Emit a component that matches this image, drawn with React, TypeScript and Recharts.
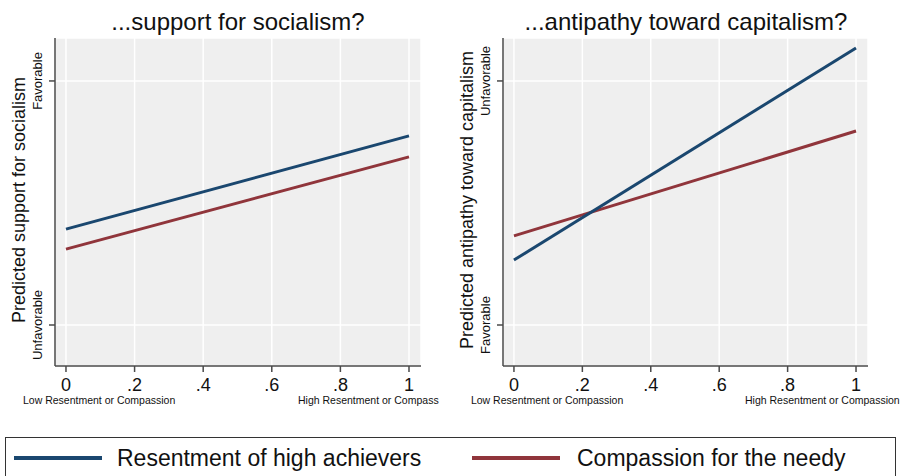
import React from 'react';
import { LineChart, Line, XAxis, YAxis, CartesianGrid, Label } from 'recharts';

const xValues = [0, 1];
const socialismResentment = [0.393, 0.775];
const socialismCompassion = [0.311, 0.689];
const capitalismResentment = [0.266, 1.135];
const capitalismCompassion = [0.365, 0.795];

const xTicks = [0, 0.2, 0.4, 0.6, 0.8, 1];
const xTickLabels = ['0', '.2', '.4', '.6', '.8', '1'];
const lowLabel = 'Low Resentment or Compassion';
const highLabelLeft = 'High Resentment or Compass';
const highLabelRight = 'High Resentment or Compassion';

const seriesNames = ['Resentment of high achievers', 'Compassion for the needy'];
const seriesColors = ['#1a476f', '#90353b'];

const titles = ['...support for socialism?', '...antipathy toward capitalism?'];
const yLabels = ['Predicted support for socialism', 'Predicted antipathy toward capitalism'];
const yTickLabelsLeft = ['Unfavorable', 'Favorable'];
const yTickLabelsRight = ['Favorable', 'Unfavorable'];

const FONT = '"Liberation Sans", Arial, Helvetica, sans-serif';
const AXIS = '#4a4a4a';

const buildData = (a: number[], b: number[]) =>
  xValues.map((x, i) => ({ x, r: a[i], c: b[i] }));

const dataLeft = buildData(socialismResentment, socialismCompassion);
const dataRight = buildData(capitalismResentment, capitalismCompassion);

const makeXTick = (highText: string) => (props: any) => {
  const { x, payload } = props;
  const idx = xTicks.indexOf(payload.value);
  const label = idx >= 0 ? xTickLabels[idx] : String(payload.value);
  return (
    <g>
      <text x={x} y={391} textAnchor="middle" fontSize={18} fontFamily={FONT} fill="#111">
        {label}
      </text>
      {payload.value === 0 && (
        <text x={x - 43} y={404} textAnchor="start" fontSize={10.5} fontFamily={FONT} fill="#111">
          {lowLabel}
        </text>
      )}
      {payload.value === 1 && (
        <text x={x - 111} y={404} textAnchor="start" fontSize={10.5} fontFamily={FONT} fill="#111">
          {highText}
        </text>
      )}
    </g>
  );
};

const makeYTick = (labels: string[]) => (props: any) => {
  const { y, payload } = props;
  const label = payload.value === 1 ? labels[1] : labels[0];
  return (
    <text
      x={42}
      y={y}
      textAnchor="middle"
      fontSize={13}
      fontFamily={FONT}
      fill="#111"
      transform={`rotate(-90, 42, ${y})`}
    >
      {label}
    </text>
  );
};

const makeYLabel = (text: string) => (props: any) => {
  const vb = props.viewBox || { y: 38, height: 328 };
  const cy = vb.y + vb.height / 2 - 2;
  return (
    <text
      x={25}
      y={cy}
      textAnchor="middle"
      fontSize={18}
      fontFamily={FONT}
      fill="#111"
      transform={`rotate(-90, 25, ${cy})`}
    >
      {text}
    </text>
  );
};

function Panel(props: {
  data: any[];
  width: number;
  marginRight: number;
  yLabel: string;
  yTickLabels: string[];
  highText: string;
}) {
  const { data, width, marginRight, yLabel, yTickLabels, highText } = props;
  return (
    <LineChart
      width={width}
      height={420}
      data={data}
      margin={{ top: 38, right: marginRight, left: 15, bottom: 24 }}
    >
      <CartesianGrid fill="#efefef" stroke="#ffffff" strokeWidth={1.5} />
      <XAxis
        dataKey="x"
        type="number"
        domain={[-0.032, 1.035]}
        ticks={xTicks}
        allowDataOverflow
        height={30}
        stroke={AXIS}
        strokeWidth={1.5}
        tickSize={6}
        tickLine={{ stroke: AXIS, strokeWidth: 1.5 }}
        tick={makeXTick(highText)}
        interval={0}
      />
      <YAxis
        type="number"
        domain={[-0.168, 1.176]}
        ticks={[0, 1]}
        allowDataOverflow
        width={40}
        stroke={AXIS}
        strokeWidth={1.5}
        tickSize={6}
        tickLine={{ stroke: AXIS, strokeWidth: 1.5 }}
        tick={makeYTick(yTickLabels)}
        interval={0}
      >
        <Label content={makeYLabel(yLabel)} />
      </YAxis>
      <Line
        dataKey="c"
        stroke={seriesColors[1]}
        strokeWidth={3}
        dot={false}
        isAnimationActive={false}
        type="linear"
      />
      <Line
        dataKey="r"
        stroke={seriesColors[0]}
        strokeWidth={3}
        dot={false}
        isAnimationActive={false}
        type="linear"
      />
    </LineChart>
  );
}

const titleStyle: React.CSSProperties = {
  position: 'absolute',
  width: 440,
  top: 10,
  fontSize: 24,
  lineHeight: '24px',
  textAlign: 'center',
  color: '#111',
  whiteSpace: 'nowrap',
};

export default function App() {
  return (
    <div
      style={{
        position: 'absolute',
        left: 0,
        top: 0,
        width: 901,
        height: 476,
        background: '#ffffff',
        overflow: 'hidden',
        fontFamily: FONT,
      }}
    >
      <div style={{ position: 'absolute', left: 0, top: 0, width: 446, height: 420 }}>
        <Panel
          data={dataLeft}
          width={446}
          marginRight={25}
          yLabel={yLabels[0]}
          yTickLabels={yTickLabelsLeft}
          highText={highLabelLeft}
        />
      </div>
      <div style={{ position: 'absolute', left: 448, top: 0, width: 453, height: 420 }}>
        <Panel
          data={dataRight}
          width={453}
          marginRight={33}
          yLabel={yLabels[1]}
          yTickLabels={yTickLabelsRight}
          highText={highLabelRight}
        />
      </div>
      <div style={{ ...titleStyle, left: 18 }}>{titles[0]}</div>
      <div style={{ ...titleStyle, left: 466 }}>{titles[1]}</div>
      <div
        style={{
          position: 'absolute',
          left: 5,
          top: 437,
          width: 891,
          height: 60,
          border: '1px solid #333',
          boxSizing: 'border-box',
          background: '#fff',
        }}
      />
      {seriesNames.map((name, i) => (
        <React.Fragment key={name}>
          <div
            style={{
              position: 'absolute',
              left: i === 0 ? 14 : 472,
              top: 456,
              width: 88,
              height: 4,
              background: seriesColors[i],
            }}
          />
          <div
            style={{
              position: 'absolute',
              left: i === 0 ? 117 : 577,
              top: 447,
              fontSize: 23,
              lineHeight: '23px',
              whiteSpace: 'nowrap',
              color: '#111',
            }}
          >
            {name}
          </div>
        </React.Fragment>
      ))}
    </div>
  );
}
